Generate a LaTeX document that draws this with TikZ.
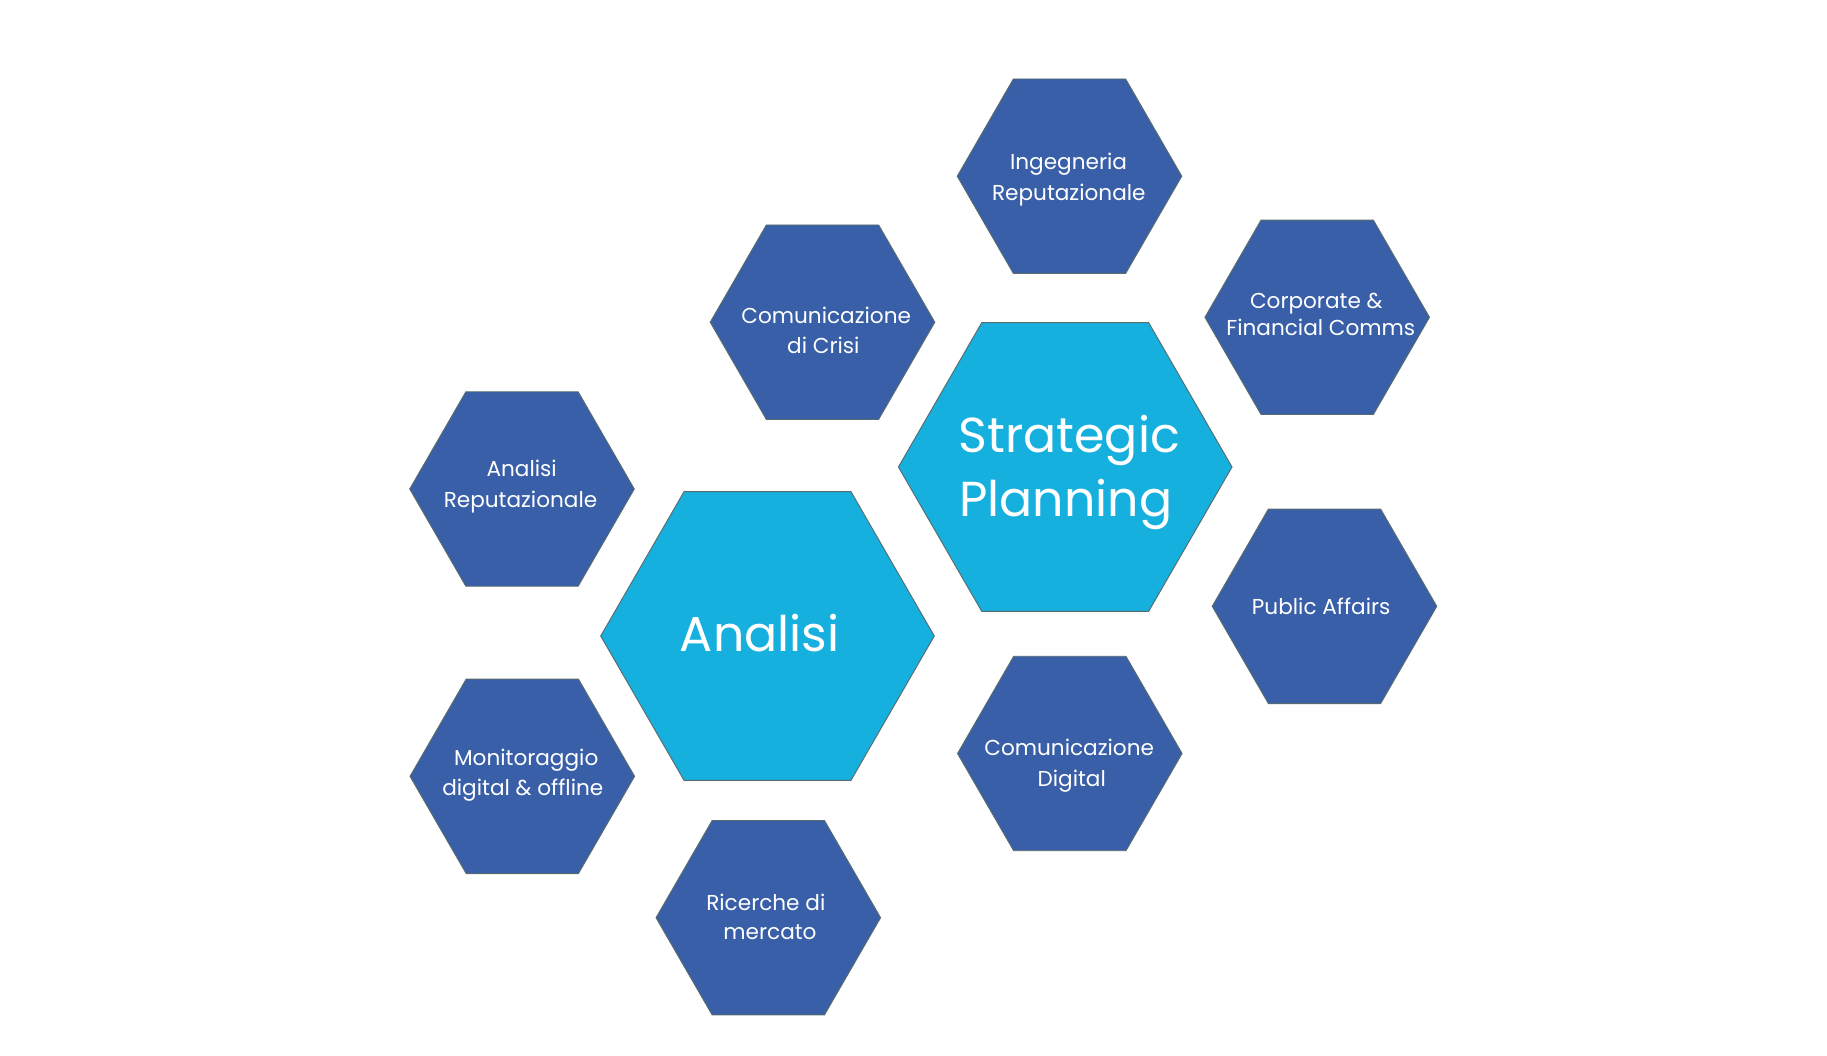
\documentclass[tikz,border=0pt]{standalone}
\usepackage{fontspec}
\setmainfont{Poppins}
\usetikzlibrary{shapes.geometric}
\definecolor{hexdark}{RGB}{56,95,168}
\definecolor{hexlight}{RGB}{22,176,223}
\definecolor{hexline}{RGB}{88,108,110}
\tikzset{
  hexbase/.style={regular polygon, regular polygon sides=6, inner sep=0pt, outer sep=0pt, draw=hexline, line width=0.7pt},
  smallhex/.style={hexbase, fill=hexdark, minimum size=168.4pt},
  bighex/.style={hexbase, fill=hexlight, minimum size=250.2pt},
  smalltxt/.style={anchor=base, text=white, inner sep=0pt, font=\fontsize{16.2pt}{22pt}\selectfont},
  bigtxt/.style={anchor=base, text=white, inner sep=0pt, font=\fontsize{36.8pt}{48pt}\selectfont},
}
\begin{document}
\begin{tikzpicture}[x=0.75pt,y=-0.75pt]
\useasboundingbox (0,0) rectangle (1827,1056);
\fill[white] (0,0) rectangle (1827,1056);
% hexagons
\node[bighex] (analisi) at (767.5,636) {};
\node[bighex] (strat) at (1065.2,467) {};
\node[smallhex] (ing) at (1069.5,176.2) {};
\node[smallhex] (crisi) at (822.5,322.2) {};
\node[smallhex] (corp) at (1317.2,317.3) {};
\node[smallhex] (anrep) at (522,489) {};
\node[smallhex] (pub) at (1324.5,606.3) {};
\node[smallhex] (digit) at (1069.8,753.5) {};
\node[smallhex] (monit) at (522.3,776.3) {};
\node[smallhex] (ricer) at (768.3,917.7) {};
% big texts
\node[bigtxt] (analisiT) at (759.7,651.7) {Analisi};
\node[bigtxt, anchor=base west] (stratT1) at (958.3,452.7) {Strategic};
\node[bigtxt, anchor=base west] (stratT2) at (958.8,516.7) {Planning};
% small texts
\node[smalltxt] (ingT1) at (1068.5,169.3) {Ingegneria};
\node[smalltxt] (ingT2) at (1068.8,200) {Reputazionale};
\node[smalltxt] (corpT1) at (1316.3,308.3) {Corporate \&};
\node[smalltxt] (corpT2) at (1320.8,335) {Financial Comms};
\node[smalltxt] (crisiT1) at (826.2,323.3) {Comunicazione};
\node[smalltxt] (crisiT2) at (823.3,353.3) {di Crisi};
\node[smalltxt] (anrepT1) at (521.7,476.7) {Analisi};
\node[smalltxt] (anrepT2) at (520.5,507.7) {Reputazionale};
\node[smalltxt] (pubT) at (1321.2,614.3) {Public Affairs};
\node[smalltxt] (digitT1) at (1069.2,755) {Comunicazione};
\node[smalltxt] (digitT2) at (1071.7,786) {Digital};
\node[smalltxt] (monitT1) at (526.2,765) {Monitoraggio};
\node[smalltxt] (monitT2) at (522.8,795.7) {digital \& offline};
\node[smalltxt] (ricerT1) at (765.8,910) {Ricerche di};
\node[smalltxt] (ricerT2) at (770,939.3) {mercato};
\end{tikzpicture}
\end{document}
